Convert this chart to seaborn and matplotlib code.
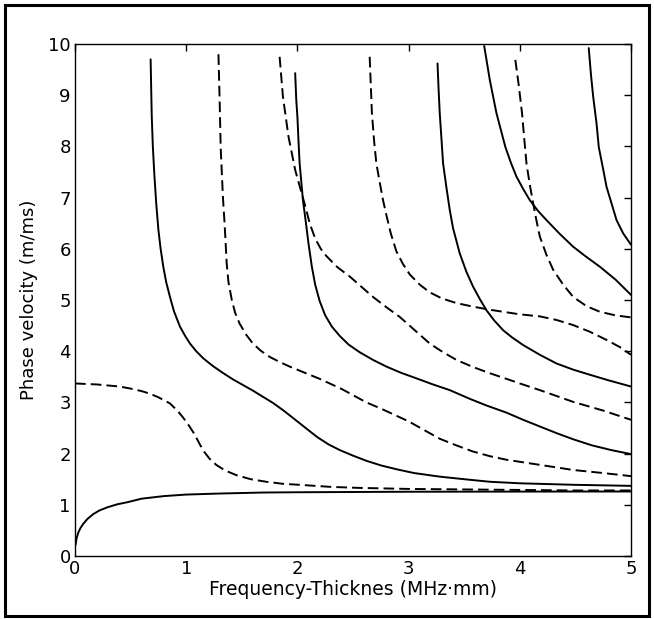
import matplotlib
matplotlib.use("Agg")
import matplotlib.pyplot as plt
import seaborn as sns
import pandas as pd
from matplotlib.patches import Rectangle

# ---- data (frequency-thickness MHz*mm, phase velocity m/ms)
a0_x = [0.005, 0.015, 0.03, 0.05, 0.075, 0.11, 0.165, 0.22, 0.29, 0.38, 0.47, 0.6, 0.8, 1.0, 1.3, 1.7, 2.0, 2.5, 3.0, 4.0, 5.0]
a0_y = [0.22, 0.35, 0.46, 0.55, 0.63, 0.72, 0.82, 0.89, 0.95, 1.01, 1.05, 1.12, 1.17, 1.2, 1.22, 1.24, 1.245, 1.25, 1.255, 1.258, 1.26]

s0_x = [0.0, 0.1, 0.2, 0.3, 0.4, 0.5, 0.6, 0.674, 0.75, 0.854, 0.92, 0.97, 1.03, 1.08, 1.12, 1.16, 1.21, 1.27, 1.35, 1.45, 1.58, 1.72, 1.87, 2.02, 2.3, 2.56, 3.0, 3.5, 4.0, 4.5, 5.0]
s0_y = [3.37, 3.36, 3.35, 3.33, 3.31, 3.27, 3.22, 3.17, 3.10, 2.98, 2.84, 2.71, 2.53, 2.36, 2.19, 2.04, 1.90, 1.78, 1.67, 1.58, 1.50, 1.45, 1.41, 1.39, 1.35, 1.33, 1.31, 1.30, 1.29, 1.28, 1.28]

a1_x = [0.68, 0.69, 0.70, 0.713, 0.73, 0.75, 0.77, 0.794, 0.82, 0.854, 0.89, 0.944, 0.99, 1.034, 1.09, 1.154, 1.24, 1.334, 1.42, 1.51, 1.60, 1.69, 1.78, 1.87, 1.97, 2.08, 2.18, 2.28, 2.38, 2.50, 2.62, 2.75, 2.90, 3.05, 3.28, 3.5, 3.73, 4.0, 4.5, 5.0]
a1_y = [9.70, 8.60, 8.00, 7.47, 6.90, 6.37, 6.00, 5.65, 5.35, 5.06, 4.78, 4.48, 4.30, 4.15, 4.00, 3.86, 3.71, 3.57, 3.45, 3.34, 3.23, 3.11, 2.99, 2.85, 2.68, 2.49, 2.32, 2.18, 2.07, 1.96, 1.86, 1.77, 1.69, 1.62, 1.55, 1.50, 1.45, 1.42, 1.39, 1.37]

s1_x = [1.29, 1.30, 1.31, 1.32, 1.33, 1.345, 1.355, 1.364, 1.38, 1.41, 1.44, 1.48, 1.54, 1.60, 1.67, 1.75, 1.84, 1.93, 2.02, 2.11, 2.20, 2.29, 2.40, 2.51, 2.62, 2.75, 2.87, 3.0, 3.14, 3.28, 3.43, 3.58, 3.73, 3.88, 4.03, 4.18, 4.48, 4.75, 5.0]
s1_y = [9.80, 8.97, 7.99, 7.50, 7.02, 6.50, 6.10, 5.72, 5.35, 5.00, 4.75, 4.54, 4.32, 4.15, 4.01, 3.89, 3.79, 3.70, 3.62, 3.54, 3.46, 3.37, 3.26, 3.13, 3.00, 2.88, 2.76, 2.63, 2.46, 2.29, 2.16, 2.04, 1.95, 1.88, 1.83, 1.78, 1.68, 1.62, 1.56]

s2_x = [1.84, 1.87, 1.92, 1.98, 2.03, 2.08, 2.11, 2.16, 2.21, 2.26, 2.36, 2.47, 2.58, 2.68, 2.80, 2.92, 3.05, 3.19, 3.31, 3.43, 3.58, 3.73, 3.88, 4.0, 4.18, 4.48, 4.75, 5.0]
s2_y = [9.75, 8.97, 8.19, 7.54, 7.15, 6.76, 6.50, 6.20, 6.00, 5.86, 5.64, 5.46, 5.25, 5.06, 4.86, 4.67, 4.42, 4.15, 3.98, 3.83, 3.69, 3.57, 3.46, 3.37, 3.24, 3.01, 2.84, 2.66]

a2_x = [1.98, 1.99, 2.0, 2.01, 2.02, 2.05, 2.08, 2.10, 2.13, 2.16, 2.20, 2.25, 2.31, 2.38, 2.46, 2.56, 2.68, 2.80, 2.93, 3.07, 3.22, 3.37, 3.55, 3.70, 3.88, 4.03, 4.18, 4.33, 4.48, 4.65, 4.82, 5.0]
a2_y = [9.43, 8.90, 8.58, 8.10, 7.67, 6.95, 6.45, 6.10, 5.65, 5.30, 4.98, 4.70, 4.48, 4.30, 4.13, 3.98, 3.83, 3.70, 3.58, 3.47, 3.35, 3.24, 3.07, 2.94, 2.80, 2.66, 2.53, 2.40, 2.28, 2.16, 2.07, 1.99]

s3_x = [2.65, 2.67, 2.69, 2.71, 2.74, 2.77, 2.80, 2.84, 2.89, 2.95, 3.01, 3.10, 3.19, 3.30, 3.43, 3.58, 3.73, 3.88, 4.0, 4.18, 4.33, 4.48, 4.63, 4.78, 4.9, 5.0]
s3_y = [9.75, 8.65, 8.10, 7.67, 7.30, 6.95, 6.66, 6.30, 5.95, 5.70, 5.50, 5.30, 5.15, 5.03, 4.94, 4.87, 4.81, 4.76, 4.72, 4.68, 4.61, 4.51, 4.38, 4.22, 4.08, 3.93]

a3_x = [3.26, 3.27, 3.28, 3.30, 3.31, 3.34, 3.37, 3.40, 3.46, 3.52, 3.58, 3.64, 3.70, 3.77, 3.85, 3.93, 4.03, 4.18, 4.33, 4.48, 4.63, 4.8, 5.0]
a3_y = [9.62, 9.10, 8.65, 8.00, 7.67, 7.20, 6.76, 6.40, 5.91, 5.55, 5.26, 5.02, 4.80, 4.60, 4.41, 4.27, 4.12, 3.93, 3.76, 3.64, 3.54, 3.43, 3.31]

a4_x = [3.68, 3.73, 3.79, 3.87, 3.92, 3.97, 4.03, 4.09, 4.16, 4.24, 4.36, 4.48, 4.60, 4.72, 4.86, 5.0]
a4_y = [9.96, 9.30, 8.65, 7.99, 7.68, 7.41, 7.17, 6.95, 6.75, 6.56, 6.29, 6.04, 5.84, 5.65, 5.40, 5.10]

s4_x = [3.96, 3.99, 4.02, 4.04, 4.06, 4.09, 4.12, 4.15, 4.18, 4.24, 4.30, 4.39, 4.48, 4.60, 4.72, 4.86, 5.0]
s4_y = [9.69, 9.20, 8.65, 8.15, 7.67, 7.25, 6.89, 6.55, 6.24, 5.88, 5.59, 5.30, 5.06, 4.88, 4.77, 4.70, 4.66]

a5_x = [4.62, 4.64, 4.66, 4.69, 4.71, 4.75, 4.78, 4.83, 4.87, 4.93, 5.0]
a5_y = [9.92, 9.40, 8.97, 8.45, 7.99, 7.55, 7.21, 6.85, 6.56, 6.30, 6.08]

curves = [
    ("A0", a0_x, a0_y, "solid"), ("S0", s0_x, s0_y, "dashed"),
    ("A1", a1_x, a1_y, "solid"), ("S1", s1_x, s1_y, "dashed"),
    ("S2", s2_x, s2_y, "dashed"), ("A2", a2_x, a2_y, "solid"),
    ("S3", s3_x, s3_y, "dashed"), ("A3", a3_x, a3_y, "solid"),
    ("A4", a4_x, a4_y, "solid"), ("S4", s4_x, s4_y, "dashed"),
    ("A5", a5_x, a5_y, "solid"),
]

x_ticks = [0, 1, 2, 3, 4, 5]
y_ticks = [0, 1, 2, 3, 4, 5, 6, 7, 8, 9, 10]

sns.set_style("white")
plt.rcParams["font.family"] = ["DejaVu Sans"]
plt.rcParams["text.color"] = "black"
plt.rcParams["axes.labelcolor"] = "black"
plt.rcParams["xtick.color"] = "black"
plt.rcParams["ytick.color"] = "black"

fig = plt.figure(figsize=(6.54, 6.19), dpi=100)
ax = fig.add_axes([75 / 654, 1 - 556 / 619, (631 - 75) / 654, (556 - 44) / 619])

for name, xs, ys, style in curves:
    df = pd.DataFrame({"x": xs, "y": ys})
    sns.lineplot(data=df, x="x", y="y", ax=ax, sort=False, estimator=None,
                 color="black", linewidth=1.4)
    l = ax.lines[-1]
    l.set_solid_joinstyle("round")
    if style == "dashed":
        l.set_dashes((5.5, 2.6))

ax.set_xlim(0, 5)
ax.set_ylim(0, 10)
ax.set_xticks(x_ticks)
ax.set_yticks(y_ticks)
ax.set_xticklabels([str(t) for t in x_ticks])
ax.set_yticklabels([str(t) for t in y_ticks])
ax.tick_params(direction="in", length=5, width=1, top=True, right=True,
               labelsize=13, color="black", labelcolor="black", pad=3)
for s in ax.spines.values():
    s.set_color("black")
    s.set_linewidth(1)
    s.set_visible(True)
ax.set_xlabel("Frequency-Thicknes (MHz·mm)", fontsize=13.5, labelpad=1, color="black")
ax.set_ylabel("Phase velocity (m/ms)", fontsize=13, labelpad=7, color="black")

fig.patches.append(Rectangle((5 / 654, 3 / 619), 644 / 654, 611 / 619,
                             transform=fig.transFigure, fill=False,
                             edgecolor="black", linewidth=2.2))

fig.savefig("out.png", dpi=100, facecolor="white")
